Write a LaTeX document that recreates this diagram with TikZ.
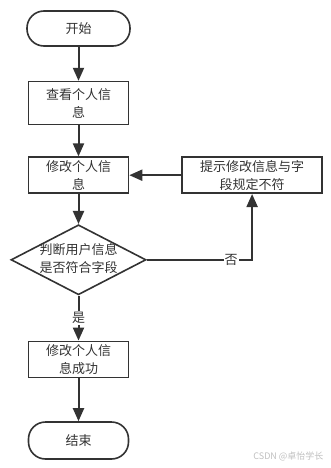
\documentclass[tikz,border=0pt]{standalone}
\usepackage{fontspec}
\setmainfont{Noto Sans CJK SC}
\usetikzlibrary{positioning, arrows.meta, shapes.geometric}
\definecolor{linegray}{HTML}{333333}

\begin{document}
\begin{tikzpicture}[
	box/.style={draw=linegray, rectangle, line width=1.6pt, minimum width=100pt, minimum height=36pt, inner sep=1pt, align=center, fill=white},
	terminal/.style={box, rounded corners=17pt},
	decision/.style={draw=linegray, diamond, line width=1.6pt, minimum width=135pt, minimum height=70pt, inner sep=0pt, fill=white},
	arrow/.style={-{Triangle[length=13pt, width=11pt]}, line width=2pt, draw=linegray},
	font=\fontsize{13}{18}\selectfont, text=linegray
	]

	\useasboundingbox (0,0) rectangle (330pt,-468pt);

	\node[terminal, minimum width=103pt, minimum height=35pt] (start) at (78.5pt,-28.5pt) {开始};
	\node[box, minimum height=43pt, below=34pt of start] (view) {查看个人信\\息};
	\node[box, below=31pt of view] (modify) {修改个人信\\息};
	\node[box, minimum width=140pt, right=52pt of modify] (hint) {提示修改信息与字\\段规定不符};
	\node[decision, below=30pt of modify] (check) {\makebox[0pt]{\begin{tabular}{@{}c@{}}判断用户信息\\是否符合字段\end{tabular}}};
	\node[box, below=45pt of check] (success) {修改个人信\\息成功};
	\node[terminal, minimum height=37pt, below=43pt of success] (finish) {结束};

	\draw[arrow] (start) -- (view);
	\draw[arrow] (view) -- (modify);
	\draw[arrow] (modify) -- (check);
	\draw[arrow] (check) -- node[fill=white, inner sep=1pt] {是} (success);
	\draw[arrow] (check.east) -| node[pos=0.4, fill=white, inner sep=1pt] {否} (hint.south);
	\draw[arrow] (hint) -- (modify);
	\draw[arrow] (success) -- (finish);

	\node[anchor=south east, text=gray!50, font=\fontsize{9}{11}\selectfont] (mark) at (327pt,-465pt) {CSDN @卓怡学长};

\end{tikzpicture}
\end{document}
